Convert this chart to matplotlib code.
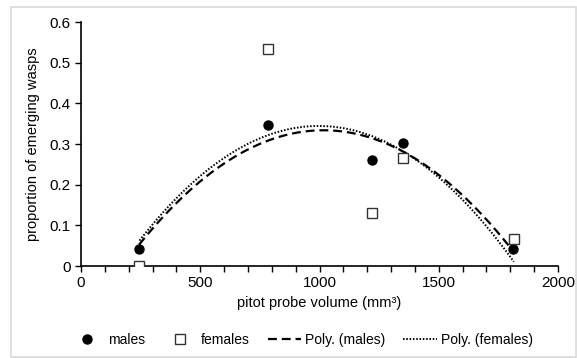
import numpy as np
import matplotlib
matplotlib.use("Agg")
from matplotlib import pyplot as plt
from matplotlib.patches import Rectangle

# data
male_x = [243, 785, 1221, 1350, 1813]
male_y = [0.042, 0.346, 0.260, 0.302, 0.042]
female_x = [245, 785, 1221, 1350, 1815]
female_y = [0.0, 0.533, 0.131, 0.266, 0.066]

plt.rcParams["font.family"] = ["Liberation Sans", "DejaVu Sans"]
plt.rcParams["font.size"] = 10

fig = plt.figure(figsize=(5.77, 3.58), dpi=100)
ax = fig.add_axes([81 / 577, 1 - 266 / 358, (558 - 81) / 577, (266 - 22) / 358])

# second order trendlines like excel
pm = np.polyfit(male_x, male_y, 2)
pf = np.polyfit(female_x, female_y, 2)
xm = np.linspace(min(male_x), max(male_x), 200)
xf = np.linspace(min(female_x), max(female_x), 200)

ax.plot(male_x, male_y, "o", color="black", markersize=6.5, label="males", zorder=3)
ax.plot(female_x, female_y, "s", mfc="white", mec="#333333", mew=1.0,
        markersize=7.5, label="females", zorder=3)
ax.plot(xm, np.polyval(pm, xm), color="black", lw=1.6, ls=(0, (4, 2.2)),
        label="Poly. (males)")
ax.plot(xf, np.polyval(pf, xf), color="black", lw=1.4, ls=(0, (0.8, 0.9)),
        label="Poly. (females)")

ax.set_xlim(0, 2000)
ax.set_ylim(0, 0.6)
ax.set_xticks([0, 500, 1000, 1500, 2000])
ax.set_xticks(np.arange(0, 2001, 100), minor=True)
ax.set_yticks(np.arange(0, 0.61, 0.1))
ax.set_yticklabels(["0", "0.1", "0.2", "0.3", "0.4", "0.5", "0.6"])
ax.tick_params(axis="x", which="both", direction="out", length=4, width=1)
ax.tick_params(axis="y", direction="out", length=4, width=1)
ax.tick_params(labelsize=11)
for s in ["top", "right"]:
    ax.spines[s].set_visible(False)
for s in ["left", "bottom"]:
    ax.spines[s].set_linewidth(1.2)

ax.set_xlabel("pitot probe volume (mm³)", fontsize=10.5)
ax.set_ylabel("proportion of emerging wasps", fontsize=10.5, labelpad=7)

fig.legend(loc="lower center", ncol=4, frameon=False, fontsize=10,
           bbox_to_anchor=(0.523, -0.005), handlelength=2.4, handletextpad=0.3,
           columnspacing=1.3)

fig.patches.append(Rectangle((11 / 577, 0.003), 565 / 577, 1 - 7 / 358 - 0.003,
                             transform=fig.transFigure, fill=False,
                             edgecolor="#d9d9d9", lw=1.2))

fig.savefig("out.png", dpi=100)
